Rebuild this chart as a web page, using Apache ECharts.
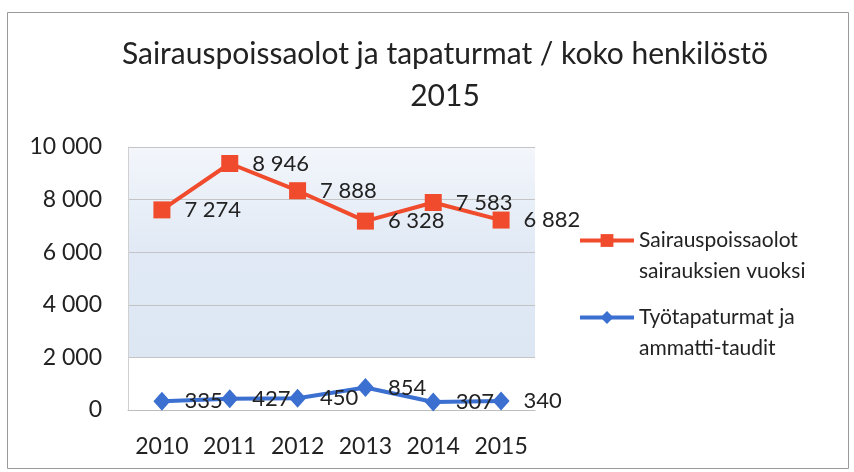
<!DOCTYPE html>
<html>
<head>
<meta charset="utf-8">
<script src="https://cdn.jsdelivr.net/npm/echarts@6/dist/echarts.min.js"></script>
<style>
  html, body { margin: 0; padding: 0; background: #fff; }
  #main { width: 854px; height: 472px; }
</style>
</head>
<body>
<div id="main"></div>
<script>
// vuodet ja arvot (kuvasta luettu)
const years = ['2010', '2011', '2012', '2013', '2014', '2015'];
const sickLeave = [7274, 8946, 7888, 6328, 7583, 6882];   // Sairauspoissaolot sairauksien vuoksi
const accidents = [335, 427, 450, 854, 307, 340];         // Työtapaturmat ja ammatti-taudit
const yMin = 0, yMax = 10000, yStep = 2000;

const nameSick = 'Sairauspoissaolot\nsairauksien vuoksi';
const nameAcc = 'Työtapaturmat ja\nammatti-taudit';

const font = 'Lato, "Noto Sans", sans-serif';
const fmt = v => String(v).replace(/\B(?=(\d{3})+(?!\d))/g, ' ');

const chart = echarts.init(document.getElementById('main'));

const option = {
  animation: false,
  title: {
    text: 'Sairauspoissaolot ja tapaturmat / koko henkilöstö\n2015',
    left: 440,
    top: 28,
    textAlign: 'center',
    padding: 5,
    textStyle: { fontFamily: font, fontSize: 30, fontWeight: 'normal', color: '#222', lineHeight: 42 }
  },
  legend: {
    data: [nameSick, nameAcc],
    orient: 'vertical',
    left: 578,
    top: 194,
    padding: 0,
    itemGap: -16,
    itemWidth: 54,
    itemHeight: 16,
    lineStyle: { width: 4 },
    // tyhjä ensimmäinen rivi, jotta merkki osuu ensimmäisen tekstirivin kohdalle
    formatter: n => ' \n' + n,
    textStyle: { fontFamily: font, fontSize: 21, color: '#222', lineHeight: 31 }
  },
  graphic: [{
    type: 'rect',
    shape: { x: 7.5, y: 12.5, width: 841, height: 456 },
    style: { fill: 'none', stroke: '#9a9a9a', lineWidth: 1 },
    silent: true
  }],
  grid: {
    left: 128, right: 319, top: 147, bottom: 62,
    show: true,
    borderWidth: 0,
    backgroundColor: new echarts.graphic.LinearGradient(0, 0, 0, 1, [
      { offset: 0, color: '#f3f6fb' },
      { offset: 0.4, color: '#e0e9f5' },
      { offset: 0.8, color: '#dde7f4' },
      { offset: 0.8, color: '#ffffff' },
      { offset: 1, color: '#ffffff' }
    ])
  },
  xAxis: {
    type: 'category',
    data: years,
    boundaryGap: true,
    axisLine: { lineStyle: { color: '#bdbdbd' } },
    axisTick: { show: false },
    axisLabel: { fontFamily: font, fontSize: 23, color: '#222', margin: 25, interval: 0 }
  },
  yAxis: {
    type: 'value',
    min: yMin, max: yMax, interval: yStep,
    axisLine: { show: true, lineStyle: { color: '#d0d0d0' } },
    axisTick: { show: false },
    splitLine: { lineStyle: { color: '#c4c4c4' } },
    axisLabel: { fontFamily: font, fontSize: 23, color: '#222', margin: 26, formatter: fmt }
  },
  series: [
    {
      name: nameAcc,
      type: 'line',
      stack: 'total',
      data: accidents,
      symbol: 'diamond',
      symbolSize: [17, 19],
      itemStyle: { color: '#3b6fd0' },
      lineStyle: { color: '#3b6fd0', width: 4 },
      label: {
        show: true, position: 'right', distance: 14,
        fontFamily: font, fontSize: 22, color: '#222',
        formatter: p => fmt(p.value)
      },
      z: 3
    },
    {
      name: nameSick,
      type: 'line',
      stack: 'total',
      data: sickLeave,
      symbol: 'rect',
      symbolSize: 17,
      itemStyle: { color: '#f04b2c' },
      lineStyle: { color: '#f04b2c', width: 4 },
      label: {
        show: true, position: 'right', distance: 14,
        fontFamily: font, fontSize: 22, color: '#222',
        formatter: p => fmt(p.value)
      },
      z: 3
    }
  ]
};

chart.setOption(option);
</script>
</body>
</html>
